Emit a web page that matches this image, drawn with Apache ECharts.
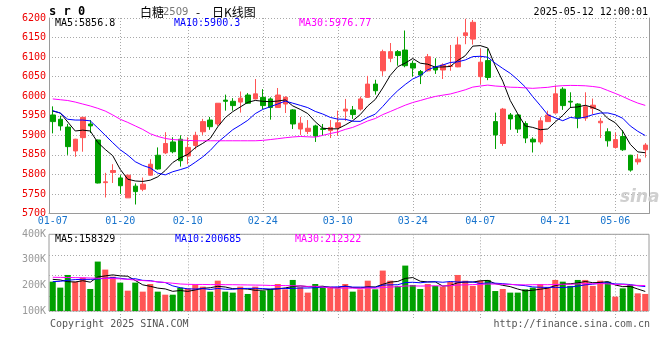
<!DOCTYPE html>
<html><head><meta charset="utf-8">
<script src="https://cdn.jsdelivr.net/npm/echarts@6/dist/echarts.min.js"></script>
<style>html,body{margin:0;padding:0;background:#fff}#c{width:660px;height:360px}</style>
</head><body><div id="c"></div>
<script>
const dates = ['01-07','01-08','01-09','01-10','01-13','01-14','01-15','01-16','01-17','01-20','01-21','01-22','01-23','01-24','01-27',
'02-05','02-06','02-07','02-10','02-11','02-12','02-13','02-14','02-17','02-18','02-19','02-20','02-21','02-24','02-25','02-26','02-27','02-28',
'03-03','03-04','03-05','03-06','03-07','03-10','03-11','03-12','03-13','03-14','03-17','03-18','03-19','03-20','03-21','03-24','03-25','03-26','03-27','03-28','03-31',
'04-01','04-02','04-03','04-07','04-08','04-09','04-10','04-11','04-14','04-15','04-16','04-17','04-18','04-21','04-22','04-23','04-24','04-25','04-28','04-29','04-30',
'05-06','05-07','05-08','05-09','05-12'];
const tickDates = ['01-07','01-20','02-10','02-24','03-10','03-24','04-07','04-21','05-06'];

const opens = [5952,5941,5921,5860,5894,5929,5888,5779,5805,5791, 5740,5770,5762,5798,5849,5855,5883,5890,5847,5874,
 5909,5939,5929,5990,5987,5985,6003,5993,5997,5993, 5971,5980,5965,5916,5910,5924,5917,5912,5920,5962,
 5965,5967,5997,6031,6065,6097,6114,6118,6084,6063, 6065,6074,6067,6076,6075,6155,6146,6050,6091,5935,
 5879,5952,5952,5930,5890,5883,5935,5957,6018,5987, 5980,5944,5969,5932,5909,5869,5897,5849,5832,5863];
const closes = [5935,5924,5871,5890,5946,5924,5778,5781,5810,5771, 5798,5756,5775,5826,5814,5879,5858,5835,5869,5900,
 5935,5922,5982,5987,5976,5995,5982,6006,5976,5971, 6003,5997,5929,5931,5918,5898,5915,5920,5932,5967,
 5953,5993,6031,6014,6114,6114,6104,6078,6072,6054, 6101,6067,6080,6078,6131,6162,6189,6087,6048,5901,
 5967,5942,5916,5893,5883,5937,5952,6006,5976,5985, 5944,5973,5977,5936,5886,5889,5863,5811,5839,5875];
const lows = [5905,5912,5850,5845,5858,5906,5777,5741,5778,5750, 5740,5723,5757,5797,5812,5852,5854,5820,5826,5864,
 5901,5914,5924,5963,5963,5958,5980,5992,5967,5940, 5970,5957,5916,5901,5903,5883,5899,5893,5899,5937,
 5942,5963,5996,6004,6052,6087,6078,6074,6050,6031, 6063,6057,6044,6065,6074,6133,6132,6031,6041,5865,
 5873,5914,5906,5880,5856,5877,5934,5956,5965,5970, 5918,5937,5954,5893,5871,5866,5860,5807,5825,5843];
const highs = [5974,5950,5929,5891,5947,5939,5889,5804,5826,5798, 5799,5777,5792,5839,5869,5908,5895,5900,5895,5909,
 5942,5947,5982,6004,5995,6012,6008,6044,6018,5997, 6021,6000,5967,5947,5939,5927,5929,5939,5963,5993,
 5975,5999,6052,6042,6119,6136,6118,6168,6091,6067, 6108,6097,6084,6131,6152,6198,6195,6121,6121,5958,
 5970,5957,5954,5936,5895,5946,5963,6027,6023,6010, 5982,6010,5994,5944,5918,5907,5913,5850,5852,5880];
const volumes = [241000,192000,296000,241000,274000,181000,406000,340000,282000,233000,
 167000,233000,159000,222000,159000,134000,134000,192000,186000,219000,
 200000,159000,249000,159000,151000,200000,140000,200000,167000,181000,
 222000,178000,255000,195000,151000,222000,195000,200000,186000,222000,
 159000,178000,249000,178000,332000,249000,206000,373000,214000,181000,
 222000,206000,200000,238000,296000,249000,206000,249000,255000,164000,
 181000,151000,151000,178000,192000,222000,195000,255000,241000,206000,
 255000,255000,206000,249000,241000,118000,186000,214000,145000,140000];

// moving-average values before enough history exists
const ma5Head = [5962,5957,5934,5911];
const ma10Head = [5963,5957,5941,5939,5939,5937,5919,5900,5881];
const ma30Head = [5993,5991,5989,5985,5980,5975,5969,5962,5952,5941,5933,5924,5915,5904,5897,5892,5889,5888,5887,5886,5886,5886,5886,5886,5886,5886,5886,5886,5887];
const vma5Head = [260000,255000,241000,238000];
const vma10Head = [241000,244000,252000,258000,260000,260000,263000,269000,274000];
const vma30Head = [277000,276000,275000,274000,273000,271000,269000,268000,266000,264000,260000,254000,250000,246000,240000,234000,228000,222000,219000,218000,218000,217000,217000,216000,216000,215000,214000,213000,212000];

const volTickLabels = ['100K','200K','300K','400K'];
const priceLegend = ['MA5:5856.8','MA10:5900.3','MA30:5976.77'];
const volLegend = ['MA5:158329','MA10:200685','MA30:212322'];

function movingAvg(vals, n, head){
  return vals.map((v,i)=>{
    if(i < n-1) return head[i];
    let s=0; for(let k=i-n+1;k<=i;k++) s+=vals[k];
    return +(s/n).toFixed(2);
  });
}

const RED='#ff5555', GREEN='#00a000', GRIDC='#a8a8a8', BORDER='#9a9a9a';
const MONO='"DejaVu Sans Mono", monospace';
const isTick = (i)=> tickDates.indexOf(dates[i])>=0;
const isGrid = (i)=> i>0 && isTick(i);
const dotted = {color:GRIDC, type:[1,2], width:1};

const candleData = opens.map((o,i)=>[o, closes[i], lows[i], highs[i]]);

const chart = echarts.init(document.getElementById('c'));
const txt = (x,y,t,fill,opt)=>({type:'text', x:x, y:y, z:100, style:Object.assign({text:t, fill:fill, font:'10px '+MONO, align:'left', verticalAlign:'middle'}, (opt&&opt.style)||{})});

chart.setOption({
  animation:false,
  backgroundColor:'#ffffff',
  grid:[
    {left:49, top:18, width:600, height:195.5, show:false, containLabel:false, outerBoundsMode:'none'},
    {left:49, top:234.3, width:600, height:76.7, show:true, borderColor:BORDER, borderWidth:1, containLabel:false, outerBoundsMode:'none'}
  ],
  xAxis:[
    {type:'category', gridIndex:0, data:dates, boundaryGap:true,
     axisLine:{show:true, lineStyle:{color:BORDER}}, axisTick:{show:false},
     axisLabel:{interval:(i)=>isTick(i), color:'#1874cd', fontFamily:'DejaVu Sans Mono', fontSize:10, margin:3},
     splitLine:{show:true, interval:(i)=>isGrid(i), alignWithLabel:true, lineStyle:dotted}},
    {type:'category', gridIndex:1, data:dates, boundaryGap:true,
     axisLine:{show:false}, axisLabel:{show:false},
     axisTick:{show:true, interval:(i)=>isGrid(i), alignWithLabel:true, length:9, lineStyle:dotted},
     splitLine:{show:true, interval:(i)=>isGrid(i), alignWithLabel:true, lineStyle:dotted}}
  ],
  yAxis:[
    {type:'value', gridIndex:0, position:'left', min:5700, max:6200, interval:50,
     axisLine:{show:true, lineStyle:{color:BORDER}}, axisTick:{show:false},
     axisLabel:{color:'#ee0000', fontFamily:'DejaVu Sans Mono', fontSize:10, margin:3, formatter:(v)=>String(v)},
     splitLine:{show:true, lineStyle:dotted}},
    {type:'value', gridIndex:0, position:'right', min:5700, max:6200, interval:50,
     axisLine:{show:true, lineStyle:{color:BORDER}}, axisTick:{show:false}, axisLabel:{show:false}, splitLine:{show:false}},
    {type:'value', gridIndex:1, position:'left', min:0, max:630000,
     axisLine:{show:false}, axisTick:{show:false}, axisLabel:{show:false}, splitLine:{show:false}},
    {type:'value', gridIndex:1, position:'left', min:100000, max:400000, interval:100000,
     axisLine:{show:false}, axisTick:{show:false}, splitLine:{show:false},
     axisLabel:{color:'#999999', fontFamily:'DejaVu Sans Mono', fontSize:10, margin:3,
       formatter:(v)=>volTickLabels[Math.round(v/100000)-1]}},
    {type:'value', gridIndex:1, position:'left', inverse:true, min:0, max:76.7, interval:20.5,
     axisLine:{show:false}, axisTick:{show:false}, axisLabel:{show:false},
     splitLine:{show:true, lineStyle:dotted}}
  ],
  series:[
    {type:'candlestick', xAxisIndex:0, yAxisIndex:0, data:candleData, barWidth:5,
     itemStyle:{color:RED, color0:GREEN, borderColor:RED, borderColor0:GREEN, borderWidth:1}},
    {type:'line', xAxisIndex:0, yAxisIndex:0, data:movingAvg(closes,5,ma5Head), showSymbol:false, symbol:'none',
     lineStyle:{color:'#000000', width:1}},
    {type:'line', xAxisIndex:0, yAxisIndex:0, data:movingAvg(closes,10,ma10Head), showSymbol:false, symbol:'none',
     lineStyle:{color:'#0000ff', width:1}},
    {type:'line', xAxisIndex:0, yAxisIndex:0, data:movingAvg(closes,30,ma30Head), showSymbol:false, symbol:'none',
     lineStyle:{color:'#ff00ff', width:1}},
    {type:'bar', xAxisIndex:1, yAxisIndex:2, data:volumes, barWidth:6,
     itemStyle:{color:(p)=> closes[p.dataIndex] >= opens[p.dataIndex] ? RED : GREEN}},
    {type:'line', xAxisIndex:1, yAxisIndex:2, data:movingAvg(volumes,5,vma5Head), showSymbol:false, symbol:'none',
     lineStyle:{color:'#000000', width:1}},
    {type:'line', xAxisIndex:1, yAxisIndex:2, data:movingAvg(volumes,10,vma10Head), showSymbol:false, symbol:'none',
     lineStyle:{color:'#0000ff', width:1}},
    {type:'line', xAxisIndex:1, yAxisIndex:2, data:movingAvg(volumes,30,vma30Head), showSymbol:false, symbol:'none',
     lineStyle:{color:'#ff00ff', width:1}}
  ],
  graphic:[
    txt(49,12,'s r 0','#000',{style:{font:'bold 12px '+MONO}}),
    txt(140,12,'白糖','#000',{style:{font:'12px "Noto Sans CJK SC"'}}),
    txt(163,12,'2509','#777',{style:{font:'10px "DejaVu Sans"'}}),
    txt(196,12,'-','#000',{style:{font:'12px "Noto Sans CJK SC"'}}),
    txt(212,12,'日K线图','#000',{style:{font:'12px "Noto Sans CJK SC"'}}),
    txt(648,12,'2025-05-12 12:00:01','#000',{style:{align:'right'}}),
    txt(55,23,priceLegend[0],'#000'),
    txt(174,23,priceLegend[1],'#0000ff'),
    txt(299,23,priceLegend[2],'#ff00ff'),
    txt(55,239,volLegend[0],'#000'),
    txt(175,239,volLegend[1],'#0000ff'),
    txt(295,239,volLegend[2],'#ff00ff'),
    txt(50,324,'Copyright 2025 SINA.COM','#555'),
    txt(650,324,'http://finance.sina.com.cn','#555',{style:{align:'right'}}),
    txt(620,198,'sina','#cfcfcf',{style:{font:'italic bold 17px "DejaVu Sans"'}})
  ]
});
</script></body></html>
